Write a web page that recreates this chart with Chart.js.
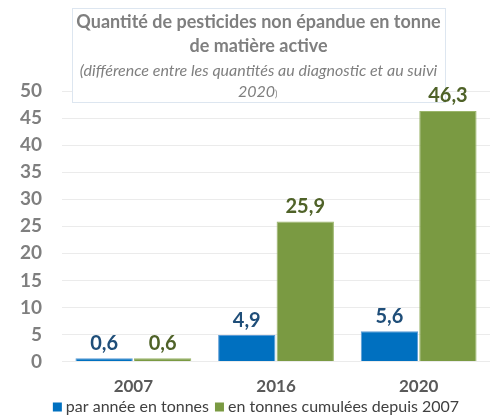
<!DOCTYPE html>
<html>
<head>
<meta charset="utf-8">
<script src="https://cdn.jsdelivr.net/npm/chart.js@4/dist/chart.umd.min.js"></script>
<style>
html,body{margin:0;padding:0;background:#fff;}
</style>
</head>
<body>
<canvas id="c" width="490" height="420"></canvas>
<script>
const categories = ["2007", "2016", "2020"];
const seriesNames = ["par année en tonnes", "en tonnes cumulées depuis 2007"];
const parAnnee = [0.6, 4.9, 5.6];
const cumulees = [0.6, 25.9, 46.3];
const yTicks = [0, 5, 10, 15, 20, 25, 30, 35, 40, 45, 50];
const titleLines = ["Quantité de pesticides non épandue en tonne", "de matière active"];
const subtitleLines = ["(différence entre les quantités au diagnostic et au suivi", "2020"];

const barColors = ['#0070c0', '#7a9a42'];
const labelColors = ["#1f4e79", "#4f6228"];
const fmt = v => v.toFixed(1).replace('.', ',');
const FONT = 'Lato, "Open Sans", sans-serif';

const titleBox = {
  id: 'titleBox',
  beforeDatasetsDraw(chart) {
    const ctx = chart.ctx;
    ctx.save();
    const x0 = 72, y0 = 8, w = 373, h = 94;
    ctx.fillStyle = '#ffffff';
    ctx.fillRect(x0, y0, w, h);
    ctx.strokeStyle = '#dde6f0';
    ctx.lineWidth = 1;
    ctx.strokeRect(x0 + 0.5, y0 + 0.5, w, h);
    const cx = x0 + w / 2;
    ctx.textAlign = 'center';
    ctx.textBaseline = 'middle';
    ctx.fillStyle = '#7f7f7f';
    ctx.font = 'bold 18px ' + FONT;
    ctx.fillText(titleLines[0], cx, 22);
    ctx.fillText(titleLines[1], cx, 46);
    ctx.font = 'italic 16px ' + FONT;
    ctx.fillText(subtitleLines[0], cx, 71);
    const w2 = ctx.measureText(subtitleLines[1]).width;
    ctx.fillText(subtitleLines[1], cx - 2, 92);
    ctx.font = '9px ' + FONT;
    ctx.textAlign = 'left';
    ctx.fillText(')', cx - 2 + w2 / 2, 94);
    ctx.restore();
  }
};

const dataLabels = {
  id: 'dataLabels',
  afterDatasetsDraw(chart) {
    const ctx = chart.ctx;
    ctx.save();
    ctx.font = 'bold 20px ' + FONT;
    ctx.textAlign = 'center';
    ctx.textBaseline = 'bottom';
    chart.data.datasets.forEach((ds, i) => {
      const meta = chart.getDatasetMeta(i);
      meta.data.forEach((bar, j) => {
        ctx.fillStyle = labelColors[i];
        ctx.fillText(fmt(ds.data[j]), bar.x, bar.y - 5);
      });
    });
    ctx.restore();
  }
};

const bottomLegend = {
  id: 'bottomLegend',
  afterDraw(chart) {
    const ctx = chart.ctx;
    ctx.save();
    ctx.font = '16px ' + FONT;
    ctx.textBaseline = 'middle';
    ctx.textAlign = 'left';
    const box = 9, gap = 4, sep = 6, cy = 407;
    const widths = seriesNames.map(s => ctx.measureText(s).width);
    let total = 0;
    widths.forEach((w, i) => { total += box + gap + w + (i ? sep : 0); });
    let x = 256 - total / 2;
    seriesNames.forEach((s, i) => {
      ctx.fillStyle = barColors[i];
      ctx.fillRect(x, cy - box / 2, box, box);
      x += box + gap;
      ctx.fillStyle = '#404040';
      ctx.fillText(s, x, cy);
      x += widths[i] + sep;
    });
    ctx.restore();
  }
};

new Chart(document.getElementById('c'), {
  type: 'bar',
  data: {
    labels: categories,
    datasets: [
      { label: seriesNames[0], data: parAnnee, backgroundColor: barColors[0], borderColor: '#5b9bd5', borderWidth: {top:1,left:1,right:1,bottom:0} },
      { label: seriesNames[1], data: cumulees, backgroundColor: barColors[1], borderColor: '#9bb56a', borderWidth: {top:1,left:1,right:1,bottom:0} }
    ]
  },
  options: {
    responsive: false,
    animation: false,
    layout: { padding: { top: 91, right: 0, left: 0, bottom: 16 } },
    scales: {
      x: {
        grid: { display: false },
        border: { display: false },
        ticks: { color: '#595959', font: { family: FONT, size: 17, weight: 'bold' }, padding: 7 }
      },
      y: {
        min: 0, max: 50,
        afterBuildTicks(axis) { axis.ticks = yTicks.map(v => ({ value: v })); },
        grid: { color: '#ebebeb', drawTicks: false },
        border: { display: false },
        ticks: { color: '#7f7f7f', autoSkip: false, font: { family: FONT, size: 19, weight: 'bold' }, padding: 20 }
      }
    },
    datasets: { bar: { categoryPercentage: 0.82, barPercentage: 0.98 } },
    plugins: {
      legend: { display: false },
      title: { display: false },
      tooltip: { enabled: false }
    }
  },
  plugins: [titleBox, dataLabels, bottomLegend]
});
</script>
</body>
</html>
